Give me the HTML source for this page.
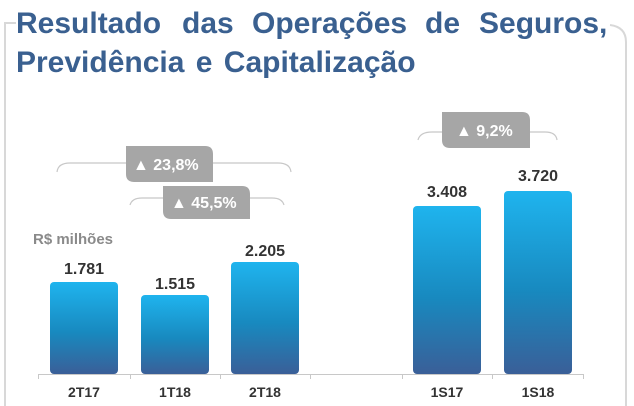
<!DOCTYPE html>
<html><head><meta charset="utf-8"><style>
html,body{margin:0;padding:0;background:#fff;}
svg{display:block;}
text{font-family:"Liberation Sans",Arial,sans-serif;font-weight:bold;}
</style></head><body>
<svg width="634" height="406" viewBox="0 0 634 406" xmlns="http://www.w3.org/2000/svg">
<defs>
<linearGradient id="g" x1="0" y1="0" x2="0" y2="1">
<stop offset="0" stop-color="#1fb4ee"/>
<stop offset="0.55" stop-color="#1889bf"/>
<stop offset="1" stop-color="#3a5f98"/>
</linearGradient>
</defs>
<path d="M16 23 H5 V406" fill="none" stroke="#d8d8d8" stroke-width="2"/>
<path d="M610 25 Q626 27 626 42 V406" fill="none" stroke="#d8d8d8" stroke-width="2"/>
<g font-size="30" fill="#3a6090">
<text y="33"><tspan x="16">Resultado</tspan><tspan x="182">das</tspan><tspan x="252">Operações</tspan><tspan x="425">de</tspan><tspan x="479">Seguros,</tspan></text>
<text x="16" y="72" word-spacing="3">Previdência e Capitalização</text>
</g>
<g fill="none" stroke="#c8c8c8" stroke-width="1.2">
<path d="M57 172 Q58 163 70 163 H278 Q290 163 291 172"/>
<path d="M130 205 Q132 198 142 198 H272 Q282 198 284 205"/>
<path d="M418 140 Q420 132 432 132 H545 Q556 132 557 140"/>
</g>
<g fill="#a6a6a6">
<path d="M126 146 H205 Q213 146 213 154 V182 H134 Q126 182 126 174 Z"/>
<path d="M163 186 H242 Q250 186 250 194 V219 H171 Q163 219 163 211 Z"/>
<path d="M442 112 H522 Q530 112 530 120 V148 H450 Q442 148 442 140 Z"/>
</g>
<g fill="#fff" font-size="16">
<text x="133" y="170">▲ 23,8%</text>
<text x="171" y="208">▲ 45,5%</text>
<text x="456" y="136">▲ 9,2%</text>
</g>
<text x="33" y="244" font-size="15" fill="#8a8a8a">R$ milhões</text>
<g fill="url(#g)">
<rect x="50" y="282" width="68" height="92" rx="4"/>
<rect x="141" y="295" width="68" height="79" rx="4"/>
<rect x="231" y="262" width="68" height="112" rx="4"/>
<rect x="413" y="206" width="68" height="168" rx="4"/>
<rect x="504" y="191" width="68" height="183" rx="4"/>
</g>
<g stroke="#c8c8c8" stroke-width="1">
<path d="M38 374.5 H583"/>
<path d="M38.5 374 V379 M130.5 374 V379 M220.5 374 V379 M310.5 374 V379 M402.5 374 V379 M492.5 374 V379 M583.5 374 V379"/>
</g>
<g font-size="16" fill="#333" text-anchor="middle">
<text x="84" y="274">1.781</text>
<text x="175" y="289">1.515</text>
<text x="265" y="256">2.205</text>
<text x="447" y="197">3.408</text>
<text x="538" y="181">3.720</text>
</g>
<g font-size="14" fill="#333" text-anchor="middle">
<text x="84" y="397">2T17</text>
<text x="175" y="397">1T18</text>
<text x="265" y="397">2T18</text>
<text x="447" y="397">1S17</text>
<text x="538" y="397">1S18</text>
</g>
</svg>
</body></html>
